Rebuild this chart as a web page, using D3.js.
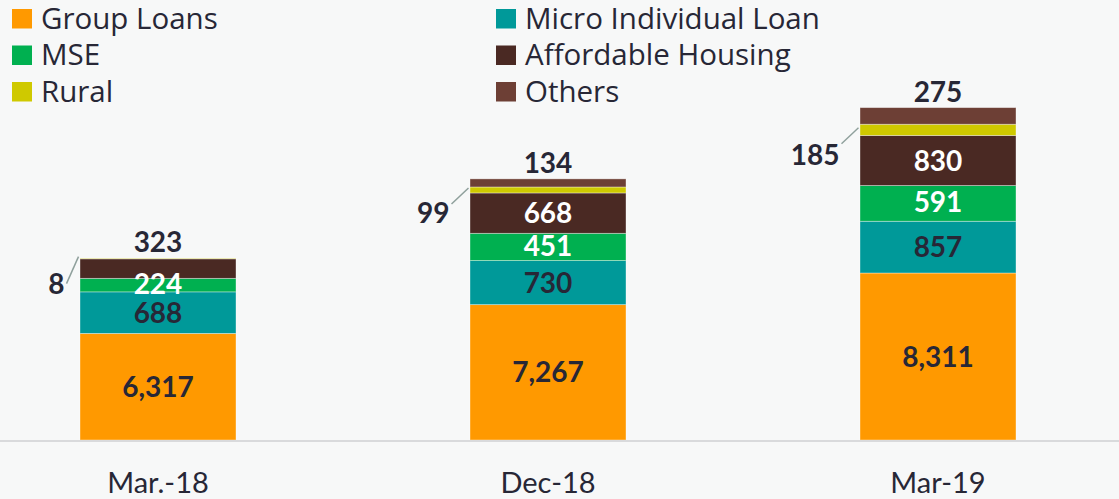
<!DOCTYPE html>
<html>
<head>
<meta charset="utf-8">
<script src="https://cdn.jsdelivr.net/npm/d3@7"></script>
<style>
  html, body { margin: 0; padding: 0; background: #f7f8f8; }
  svg { display: block; font-family: Lato, "Open Sans", sans-serif; }
</style>
</head>
<body>
<div id="chart-container"></div>
<script>
/* DATA */
const categories = ["Mar.-18", "Dec-18", "Mar-19"];
const seriesNames = ["Group Loans", "Micro Individual Loan", "MSE", "Affordable Housing", "Rural", "Others"];
const groupLoans = [6317, 7267, 8311];
const microIndividual = [688, 730, 857];
const mse = [224, 451, 591];
const affordableHousing = [323, 668, 830];
const rural = [8, 99, 185];
const others = [0, 134, 275];

const seriesValues = [groupLoans, microIndividual, mse, affordableHousing, rural, others];

/* CONSTANTS */
const width = 1119,
  height = 499,
  baseline = 440,
  textColor = "#272736";

const colors = ["#ff9900", "#009999", "#00b050", "#4a2923", "#cfc900", "#6d3f35"];
// which segments get white labels inside
const labelFill = ["#272736", "#272736", "#ffffff", "#ffffff", null, null];

// leader line for the "Rural" labels: [dx, dy, text shift]
const leaderLayout = [[12, 27, 0], [17, 16, 9], [17, 16, 11]];

// legend is laid out in two columns of three
const legendOrder = [0, 2, 4, 1, 3, 5];

/* SCALES */
const xScale = d3.scaleBand()
  .domain(categories)
  .range([2, 1094])
  .paddingInner(0.6)
  .paddingOuter(0.2);

// Group Loans sit on a broken axis, the other segments use a common scale
const glScale = d3.scaleLinear().domain([2800, 8311]).range([0, 167]);
const segScale = d3.scaleLinear().domain([0, 1000]).range([0, 60.4]);

const fmt = d3.format(",");

/* BUILD SEGMENTS */
const segments = [];
categories.forEach((cat, ci) => {
  let y = baseline;
  seriesValues.forEach((vals, si) => {
    const v = vals[ci];
    const h = si === 0 ? glScale(v) : segScale(v);
    segments.push({ cat, ci, si, value: v, y0: y, y1: y - h });
    y -= h;
  });
});

const svg = d3.select("#chart-container")
  .append("svg")
  .attr("width", width)
  .attr("height", height);

svg.append("rect")
  .attr("width", width)
  .attr("height", height)
  .attr("fill", "#f7f8f8");

// bars
svg.append("g")
  .selectAll("rect")
  .data(segments.filter(d => d.value > 0))
  .join("rect")
  .attr("x", d => xScale(d.cat))
  .attr("width", xScale.bandwidth())
  .attr("y", d => d.y1)
  .attr("height", d => d.y0 - d.y1)
  .attr("fill", d => colors[d.si])
  .attr("stroke", "#ffffff")
  .attr("stroke-opacity", 0.45)
  .attr("stroke-width", 0.8);

// axis line
svg.append("line")
  .attr("x1", 0)
  .attr("x2", width)
  .attr("y1", baseline + 1)
  .attr("y2", baseline + 1)
  .attr("stroke", "#d9dadc")
  .attr("stroke-width", 2);

// x labels
svg.append("g")
  .selectAll("text")
  .data(categories)
  .join("text")
  .attr("x", d => xScale(d) + xScale.bandwidth() / 2)
  .attr("y", 493)
  .attr("text-anchor", "middle")
  .attr("font-size", 29)
  .attr("fill", textColor)
  .text(d => d);

/* VALUE LABELS */
const labels = svg.append("g")
  .attr("font-weight", "bold")
  .attr("font-size", 28);

categories.forEach((cat, ci) => {
  const segs = segments.filter(d => d.ci === ci);
  const barTop = segs[segs.length - 1].y1;
  const cx = xScale(cat) + xScale.bandwidth() / 2;
  // topmost visible segment other than Rural gets its label above the bar
  const topSeg = segs.filter(d => d.si !== 4 && d.value > 0).pop();

  segs.forEach(d => {
    if (d.value <= 0) return;
    if (d.si === 4) {
      const [dx, dy, ty] = leaderLayout[ci];
      const ex = xScale(cat) - 1.5,
        ey = (d.y0 + d.y1) / 2 - 2;
      labels.append("line")
        .attr("x1", ex - dx).attr("y1", ey + dy)
        .attr("x2", ex).attr("y2", ey)
        .attr("stroke", "#8fa09c")
        .attr("stroke-width", 1.5);
      labels.append("text")
        .attr("x", ex - dx - 2)
        .attr("y", ey + dy + ty)
        .attr("dy", "0.36em")
        .attr("text-anchor", "end")
        .attr("fill", textColor)
        .text(fmt(d.value));
    } else if (d === topSeg) {
      labels.append("text")
        .attr("x", cx)
        .attr("y", barTop - 6)
        .attr("text-anchor", "middle")
        .attr("fill", textColor)
        .text(fmt(d.value));
    } else {
      labels.append("text")
        .attr("x", cx)
        .attr("y", (d.y0 + d.y1) / 2 - (d.si === 2 ? 1.5 : 0))
        .attr("dy", "0.36em")
        .attr("text-anchor", "middle")
        .attr("fill", labelFill[d.si])
        .text(fmt(d.value));
    }
  });
});

/* LEGEND */
const legend = svg.append("g")
  .selectAll("g")
  .data(legendOrder)
  .join("g")
  .attr("transform", (d, i) => `translate(${i < 3 ? 12 : 496}, ${28.5 + (i % 3) * 36.5})`);

legend.append("rect")
  .attr("x", 0)
  .attr("y", -19.5)
  .attr("width", 20)
  .attr("height", 19.5)
  .attr("fill", d => colors[d]);

legend.append("text")
  .attr("x", 29)
  .attr("y", 0)
  .attr("font-family", "'Open Sans', sans-serif")
  .attr("font-size", 29.5)
  .attr("fill", textColor)
  .text(d => seriesNames[d]);
</script>
</body>
</html>
